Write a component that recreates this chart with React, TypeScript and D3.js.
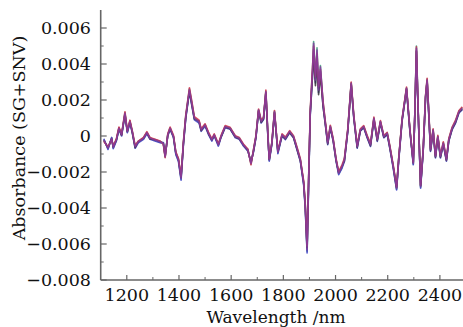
import * as d3 from "d3";

// wavelength grid (nm) shared by all spectra
const wavelengths = [
  1112, 1128, 1142, 1148, 1160, 1170, 1180, 1193, 1202, 1212,
  1221, 1232, 1244, 1264, 1277, 1289, 1308, 1328, 1340, 1347,
  1357, 1366, 1379, 1388, 1398, 1408, 1417, 1426, 1440, 1449,
  1459, 1477, 1485, 1500, 1513, 1526, 1535, 1551, 1561, 1577,
  1596, 1616, 1631, 1647, 1664, 1676, 1686, 1695, 1705, 1715,
  1724, 1733, 1741, 1746, 1756, 1766, 1779, 1795, 1808, 1824,
  1839, 1852, 1865, 1878, 1884, 1891, 1897, 1903, 1912, 1916,
  1923, 1929, 1935, 1942, 1952, 1961, 1970, 1980, 1991, 2002,
  2012, 2025, 2034, 2047, 2060, 2070, 2083, 2095, 2108, 2121,
  2134, 2147, 2160, 2172, 2185, 2198, 2208, 2221, 2234, 2242,
  2255, 2272, 2285, 2298, 2304, 2310, 2317, 2326, 2336, 2345,
  2351, 2358, 2364, 2374, 2383, 2392, 2402, 2413, 2425, 2434,
  2447, 2460, 2473, 2486,
];

const samplePurple = [
  -0.00022, -0.00068, -0.00013, -0.00063, -0.00022, 0.00043, 0.00006, 0.00126, 0.00024, 0.0008,
  0.00024, -0.0006, -0.00032, -0.00013, 0.00018, -0.00013, -0.00022, -0.00032, -0.0004, -0.00115,
  0.00006, 0.00043, -0.00004, -0.00096, -0.00133, -0.00235, -0.0004, 0.00107, 0.00256, 0.00182,
  0.00098, 0.0008, 0.00033, 0.00061, 0.00015, -0.00022, 0.00006, -0.0005, -0.00004, 0.00052,
  0.00043, -0.00004, -0.00013, -0.0005, -0.00078, -0.00152, -0.00078, -0.00004, 0.00144, 0.0008,
  0.00098, 0.00246, -0.00004, -0.00133, -0.0004, 0.00135, -0.0009, 0.00006, -0.00013, 0.00024,
  -0.00004, -0.00068, -0.00133, -0.00263, -0.00393, -0.00633, -0.00244, 0.00126, 0.00367, 0.00515,
  0.00311, 0.00478, 0.00256, 0.00385, 0.00182, 0.0007, -0.0004, 0.00052, -0.00022, -0.00133,
  -0.00207, -0.0017, -0.00133, 0.00033, 0.00293, 0.00107, -0.0006, 0.00033, 0.00052, -0.00004,
  -0.0005, 0.00098, -0.00022, 0.0008, -0.00004, 0.00015, -0.0006, -0.0017, -0.00291, -0.00133,
  0.00089, 0.00265, 0.00033, -0.00152, 0.00126, 0.00487, 0.00126, -0.00281, -0.00078, 0.00219,
  0.00311, 0.00107, -0.00078, 0.00033, -0.00115, -0.00004, -0.00115, -0.0004, -0.00133, -0.00022,
  0.00043, 0.0008, 0.00135, 0.00154,
];

const sampleRed = [
  -0.0003, -0.0006, -0.0002, -0.00055, -0.00015, 0.0005, 0.0001, 0.00135, 0.0003, 0.00088,
  0.0003, -0.00052, -0.00028, -0.00008, 0.00024, -0.00008, -0.00018, -0.00028, -0.00046, -0.0012,
  0.00012, 0.0005, 0.00004, -0.00088, -0.00125, -0.00222, -0.0003, 0.00118, 0.00268, 0.00195,
  0.00108, 0.00088, 0.0004, 0.00068, 0.00022, -0.00016, 0.00012, -0.00044, 0.00002, 0.00058,
  0.00048, 0.00002, -0.00008, -0.00044, -0.00072, -0.0016, -0.0007, 0.00004, 0.0015, 0.00088,
  0.00104, 0.00255, 0.00004, -0.00126, -0.00034, 0.00142, -0.00082, 0.00012, -0.00006, 0.0003,
  0.00002, -0.0006, -0.00125, -0.0025, -0.0038, -0.0061, -0.00225, 0.0014, 0.0039, 0.005,
  0.0033, 0.0046, 0.00275, 0.0037, 0.00195, 0.0008, -0.0003, 0.0006, -0.00014, -0.00125,
  -0.00198, -0.0016, -0.00124, 0.00042, 0.003, 0.00115, -0.00052, 0.0004, 0.00058, 0.00004,
  -0.00042, 0.00105, -0.00015, 0.00086, 0.00002, 0.0002, -0.00052, -0.0016, -0.00282, -0.00125,
  0.00096, 0.00272, 0.0004, -0.00145, 0.00135, 0.00495, 0.00135, -0.00272, -0.0007, 0.00226,
  0.0032, 0.00115, -0.0007, 0.0004, -0.00108, 0.00004, -0.00108, -0.00032, -0.00125, -0.00014,
  0.0005, 0.00088, 0.00142, 0.00162,
];

const sampleBlue = [
  -0.00015, -0.00075, -0.00008, -0.0007, -0.00028, 0.00036, 0.0, 0.00118, 0.00018, 0.00072,
  0.00018, -0.00068, -0.00038, -0.00018, 0.00012, -0.00018, -0.00028, -0.00038, -0.00036, -0.00108,
  0.0, 0.00036, -0.0001, -0.00104, -0.00142, -0.00245, -0.0005, 0.00098, 0.00245, 0.0017,
  0.0009, 0.00072, 0.00026, 0.00054, 0.00008, -0.00028, 0.0, -0.00056, -0.0001, 0.00046,
  0.00038, -0.0001, -0.00018, -0.00056, -0.00084, -0.00145, -0.00086, -0.0001, 0.00138, 0.00072,
  0.00092, 0.00238, -0.0001, -0.0014, -0.00046, 0.00128, -0.00098, 0.0, -0.0002, 0.00018,
  -0.0001, -0.00075, -0.0014, -0.00275, -0.00405, -0.0065, -0.0026, 0.00112, 0.00345, 0.0048,
  0.00295, 0.0044, 0.0024, 0.0036, 0.0017, 0.00062, -0.00048, 0.00045, -0.0003, -0.0014,
  -0.00215, -0.00178, -0.00142, 0.00025, 0.00285, 0.00098, -0.00068, 0.00026, 0.00046, -0.0001,
  -0.00058, 0.0009, -0.0003, 0.00072, -0.0001, 0.00008, -0.00068, -0.00178, -0.003, -0.0014,
  0.00082, 0.00258, 0.00026, -0.0016, 0.00118, 0.00475, 0.00118, -0.0029, -0.00086, 0.0021,
  0.00302, 0.00098, -0.00086, 0.00026, -0.00122, -0.0001, -0.00122, -0.00048, -0.0014, -0.0003,
  0.00036, 0.00072, 0.00128, 0.00146,
];

const sampleDark = [
  -0.00026, -0.00064, -0.00016, -0.0006, -0.0002, 0.00046, 0.00004, 0.00122, 0.00026, 0.00084,
  0.0002, -0.00064, -0.0003, -0.0001, 0.0002, -0.00016, -0.0002, -0.0003, -0.00042, -0.00112,
  0.00004, 0.0004, -0.00002, -0.00092, -0.00128, -0.00228, -0.00044, 0.00102, 0.0025, 0.00176,
  0.00094, 0.00084, 0.0003, 0.00064, 0.00012, -0.0002, 0.00004, -0.00046, -0.00006, 0.0005,
  0.0004, -0.00006, -0.00016, -0.00048, -0.0008, -0.00148, -0.00082, -0.00006, 0.0014, 0.00076,
  0.00094, 0.0024, -0.00008, -0.0013, -0.00044, 0.0013, -0.00086, 0.00002, -0.00016, 0.0002,
  -0.00008, -0.00072, -0.00136, -0.00258, -0.00385, -0.0062, -0.00238, 0.0012, 0.0034, 0.0044,
  0.0028, 0.0041, 0.0023, 0.0034, 0.00165, 0.00066, -0.00044, 0.00048, -0.00026, -0.00136,
  -0.00202, -0.00166, -0.00138, 0.0003, 0.00288, 0.00102, -0.00064, 0.0003, 0.0005, -0.00006,
  -0.00054, 0.00094, -0.00026, 0.00076, -0.00006, 0.00012, -0.00064, -0.00166, -0.00286, -0.0013,
  0.00086, 0.00262, 0.0003, -0.00148, 0.00122, 0.0047, 0.00122, -0.00276, -0.00082, 0.00214,
  0.00306, 0.00102, -0.00082, 0.0003, -0.00118, -0.00006, -0.00118, -0.00044, -0.00136, -0.00026,
  0.0004, 0.00076, 0.00132, 0.0015,
];

const sampleGreen = [
  -0.0002, -0.0007, -0.0001, -0.00066, -0.00024, 0.0004, 0.00008, 0.0013, 0.00022, 0.00076,
  0.00026, -0.00056, -0.00034, -0.00016, 0.00016, -0.0001, -0.00024, -0.00034, -0.00038, -0.00118,
  0.00008, 0.00046, -0.00006, -0.001, -0.00136, -0.00238, -0.00036, 0.00112, 0.00262, 0.00188,
  0.00102, 0.00076, 0.00036, 0.00058, 0.00018, -0.00024, 0.00008, -0.00052, -0.00002, 0.00054,
  0.00046, -0.00002, -0.0001, -0.00052, -0.00074, -0.00156, -0.00074, 0.0, 0.00146, 0.00084,
  0.001, 0.0025, 0.0, -0.00136, -0.00036, 0.00138, -0.00094, 0.00008, -0.0001, 0.00026,
  -0.00002, -0.00064, -0.0013, -0.00268, -0.00398, -0.0064, -0.0025, 0.00132, 0.0038, 0.00525,
  0.0032, 0.0049, 0.00265, 0.00392, 0.00188, 0.00074, -0.00036, 0.00056, -0.00018, -0.00128,
  -0.0021, -0.00174, -0.00128, 0.00036, 0.00296, 0.0011, -0.00056, 0.00036, 0.00054, 0.0,
  -0.00046, 0.001, -0.00018, 0.00082, 0.0, 0.00018, -0.00056, -0.00174, -0.00296, -0.00128,
  0.00092, 0.00268, 0.00036, -0.00156, 0.0013, 0.005, 0.0013, -0.00285, -0.00074, 0.00222,
  0.00316, 0.0011, -0.00074, 0.00036, -0.00112, 0.0, -0.00112, -0.00036, -0.0013, -0.00018,
  0.00046, 0.00084, 0.00138, 0.00158,
];

const xTicks = [1200, 1400, 1600, 1800, 2000, 2200, 2400];
const xMinorTicks = [1300, 1500, 1700, 1900, 2100, 2300];
const yTicks = [-0.008, -0.006, -0.004, -0.002, 0, 0.002, 0.004, 0.006];
const yMinorTicks = [-0.007, -0.005, -0.003, -0.001, 0.001, 0.003, 0.005];

const series = [
  { name: "green", values: sampleGreen, color: "#3f9c7a" },
  { name: "blue", values: sampleBlue, color: "#3b3fc4" },
  { name: "dark", values: sampleDark, color: "#333333" },
  { name: "red", values: sampleRed, color: "#d2344e" },
  { name: "purple", values: samplePurple, color: "#833ca0" },
];

const W = 463;
const H = 327;
const textStyle = { fontFamily: '"DejaVu Serif", "Liberation Serif", serif' };

export default function App() {
  const x = d3.scaleLinear().domain([1100, 2500]).range([100.7, 466]);
  const y = d3.scaleLinear().domain([-0.008, 0.007]).range([280, 10]);

  const line = d3
    .line<number>()
    .x((_, i) => x(wavelengths[i]))
    .y(d => y(d))
    .defined((_, i) => i < wavelengths.length);

  const fmt = (d: number) => (d === 0 ? "0" : d3.format(".3f")(d));
  const axisColor = "#666";
  const fs = 17.5;

  return (
    <svg
      width={W}
      height={H}
      style={{ position: "absolute", left: 0, top: 0, background: "#fff" }}
    >
      {/* spectra */}
      <g fill="none" strokeWidth={1.6} strokeLinejoin="round">
        {series.map(s => (
          <path key={s.name} d={line(s.values) || ""} stroke={s.color} strokeOpacity={0.85} />
        ))}
      </g>

      {/* y axis */}
      <line x1={x(1100)} x2={x(1100)} y1={y(0.007)} y2={y(-0.008)} stroke={axisColor} strokeWidth={1.6} />
      {yTicks.map(t => (
        <g key={t}>
          <line x1={x(1100)} x2={x(1100) + 6} y1={y(t)} y2={y(t)} stroke={axisColor} strokeWidth={1.2} />
          <text x={91} y={y(t)} dy="0.36em" textAnchor="end" fontSize={fs} fill="#111" style={textStyle}>
            {fmt(t)}
          </text>
        </g>
      ))}
      {yMinorTicks.map(t => (
        <line key={t} x1={x(1100)} x2={x(1100) + 3} y1={y(t)} y2={y(t)} stroke={axisColor} strokeWidth={1} />
      ))}

      {/* x axis */}
      <line x1={x(1100)} x2={W} y1={y(-0.008)} y2={y(-0.008)} stroke={axisColor} strokeWidth={1.6} />
      {xTicks.map(t => (
        <g key={t}>
          <line x1={x(t)} x2={x(t)} y1={y(-0.008)} y2={y(-0.008) - 5} stroke={axisColor} strokeWidth={1.2} />
          <text x={x(t)} y={301} textAnchor="middle" fontSize={fs} fill="#111" style={textStyle}>
            {t}
          </text>
        </g>
      ))}
      {xMinorTicks.map(t => (
        <line key={t} x1={x(t)} x2={x(t)} y1={y(-0.008)} y2={y(-0.008) - 3} stroke={axisColor} strokeWidth={1} />
      ))}

      {/* axis titles */}
      <text x={276} y={323} textAnchor="middle" fontSize={17} fill="#111" style={textStyle}>
        Wavelength /nm
      </text>
      <text
        transform={`translate(25,${138}) rotate(-90)`}
        textAnchor="middle"
        fontSize={fs}
        fill="#111"
        style={textStyle}
      >
        Absorbance (SG+SNV)
      </text>
    </svg>
  );
}
